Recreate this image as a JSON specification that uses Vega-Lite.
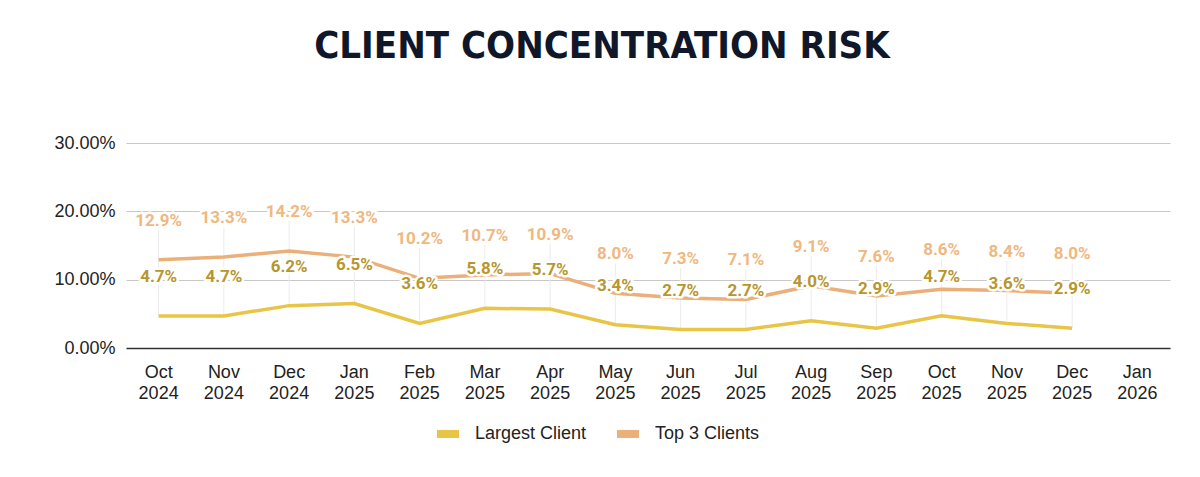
{
  "$schema": "https://vega.github.io/schema/vega-lite/v6.json",
  "width": 1044,
  "height": 205,
  "autosize": "none",
  "padding": {"left": 126, "top": 143, "right": 30, "bottom": 129},
  "background": "white",
  "title": {
    "text": "CLIENT CONCENTRATION RISK",
    "anchor": "middle",
    "frame": "group",
    "font": "Liberation Sans Narrow, DejaVu Sans Condensed, Liberation Sans, sans-serif",
    "fontWeight": "bold",
    "fontSize": 38,
    "color": "#0f1729",
    "offset": 68,
    "dx": -46
  },
  "data": {
    "values": [
      {"month": "Oct 2024", "Largest Client": 0.047, "Top 3 Clients": 0.129},
      {"month": "Nov 2024", "Largest Client": 0.047, "Top 3 Clients": 0.133},
      {"month": "Dec 2024", "Largest Client": 0.062, "Top 3 Clients": 0.142},
      {"month": "Jan 2025", "Largest Client": 0.065, "Top 3 Clients": 0.133},
      {"month": "Feb 2025", "Largest Client": 0.036, "Top 3 Clients": 0.102},
      {"month": "Mar 2025", "Largest Client": 0.058, "Top 3 Clients": 0.107},
      {"month": "Apr 2025", "Largest Client": 0.057, "Top 3 Clients": 0.109},
      {"month": "May 2025", "Largest Client": 0.034, "Top 3 Clients": 0.080},
      {"month": "Jun 2025", "Largest Client": 0.027, "Top 3 Clients": 0.073},
      {"month": "Jul 2025", "Largest Client": 0.027, "Top 3 Clients": 0.071},
      {"month": "Aug 2025", "Largest Client": 0.040, "Top 3 Clients": 0.091},
      {"month": "Sep 2025", "Largest Client": 0.029, "Top 3 Clients": 0.076},
      {"month": "Oct 2025", "Largest Client": 0.047, "Top 3 Clients": 0.086},
      {"month": "Nov 2025", "Largest Client": 0.036, "Top 3 Clients": 0.084},
      {"month": "Dec 2025", "Largest Client": 0.029, "Top 3 Clients": 0.080}
    ]
  },
  "encoding": {
    "x": {
      "field": "month",
      "type": "ordinal",
      "sort": null,
      "scale": {"domain": ["Oct 2024","Nov 2024","Dec 2024","Jan 2025","Feb 2025","Mar 2025","Apr 2025","May 2025","Jun 2025","Jul 2025","Aug 2025","Sep 2025","Oct 2025","Nov 2025","Dec 2025","Jan 2026"]},
      "axis": {
        "title": null,
        "labelAngle": 0,
        "labelExpr": "split(datum.label, ' ')",
        "labelFont": "Liberation Sans",
        "labelFontSize": 18,
        "labelColor": "#222222",
        "labelLineHeight": 21,
        "labelPadding": 15,
        "ticks": false,
        "grid": false,
        "domainColor": "#333333",
        "domainWidth": 1.5
      }
    }
  },
  "layer": [
    {
      "mark": {"type": "rule", "color": "#ebebeb", "strokeWidth": 1, "y2Offset": -30},
      "encoding": {
        "y": {"field": "Largest Client", "type": "quantitative", "scale": {"domain": [0, 0.3], "nice": false},
          "axis": {"title": null, "values": [0, 0.1, 0.2, 0.3], "format": ".2%", "domain": false, "ticks": false, "grid": true, "gridColor": "#c8c8c8", "gridWidth": 1, "labelFont": "Liberation Sans", "labelFontSize": 18, "labelColor": "#222222", "labelPadding": 11}},
        "y2": {"field": "Top 3 Clients"}
      }
    },
    {
      "transform": [{"fold": ["Largest Client", "Top 3 Clients"], "as": ["series", "value"]}],
      "mark": {"type": "line", "strokeWidth": 3.5},
      "encoding": {
        "y": {"field": "value", "type": "quantitative"},
        "color": {
          "field": "series",
          "type": "nominal",
          "scale": {"domain": ["Largest Client", "Top 3 Clients"], "range": ["#e8c547", "#ebb07a"]},
          "legend": {
            "title": null,
            "orient": "none",
            "direction": "horizontal",
            "legendX": 307,
            "legendY": 276,
            "symbolType": "stroke",
            "symbolSize": 484,
            "symbolStrokeWidth": 8,
            "labelFont": "Liberation Sans",
            "labelFontSize": 18,
            "labelColor": "#222222",
            "labelOffset": 12,
            "columnPadding": 14
          }
        }
      }
    },
    {
      "mark": {"type": "text", "font": "Roboto", "fontWeight": "bold", "fontSize": 17, "dy": -39, "stroke": "white", "strokeWidth": 5, "fill": "white", "strokeJoin": "round"},
      "encoding": {"y": {"field": "Top 3 Clients", "type": "quantitative"}, "text": {"field": "Top 3 Clients", "format": ".1%"}}
    },
    {
      "mark": {"type": "text", "font": "Roboto", "fontWeight": "bold", "fontSize": 17, "dy": -39, "stroke": "white", "strokeWidth": 5, "fill": "white", "strokeJoin": "round"},
      "encoding": {"y": {"field": "Largest Client", "type": "quantitative"}, "text": {"field": "Largest Client", "format": ".1%"}}
    },
    {
      "mark": {"type": "text", "font": "Roboto", "fontWeight": "bold", "fontSize": 17, "dy": -39, "fill": "#efb880"},
      "encoding": {"y": {"field": "Top 3 Clients", "type": "quantitative"}, "text": {"field": "Top 3 Clients", "format": ".1%"}}
    },
    {
      "mark": {"type": "text", "font": "Roboto", "fontWeight": "bold", "fontSize": 17, "dy": -39, "fill": "#b8962e"},
      "encoding": {"y": {"field": "Largest Client", "type": "quantitative"}, "text": {"field": "Largest Client", "format": ".1%"}}
    }
  ],
  "config": {"view": {"stroke": null}}
}
